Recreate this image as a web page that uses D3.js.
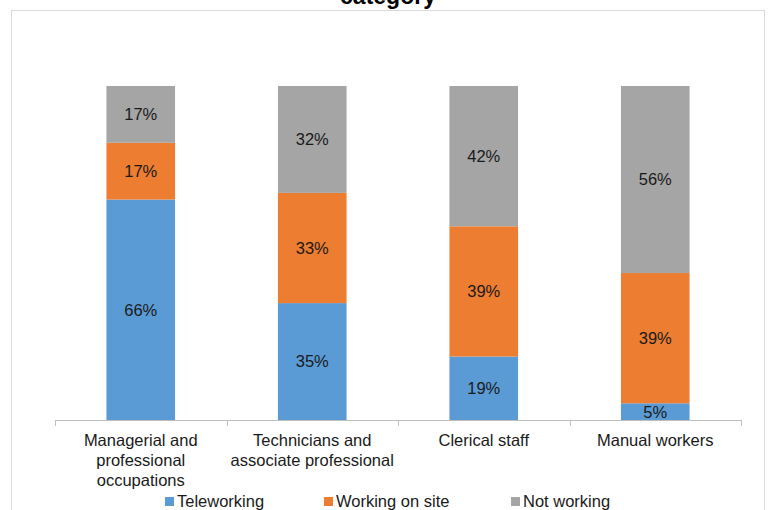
<!DOCTYPE html>
<html>
<head>
<meta charset="utf-8">
<script src="https://cdn.jsdelivr.net/npm/d3@7"></script>
<style>
  html, body { margin: 0; padding: 0; background: #fff; }
  svg { display: block; font-family: "Liberation Sans", Arial, sans-serif; }
</style>
</head>
<body>
<svg id="chart" width="769" height="510"></svg>
<script>
// Occupational categories (x axis), each label split into lines
const categories = [
  ["Managerial and", "professional", "occupations"],
  ["Technicians and", "associate professional"],
  ["Clerical staff"],
  ["Manual workers"]
];
const seriesNames = ["Teleworking", "Working on site", "Not working"];
const teleworking   = [66, 35, 19, 5];
const workingOnSite = [17, 33, 39, 39];
const notWorking    = [17, 32, 42, 56];
const colors = ["#5B9BD5", "#ED7D31", "#A5A5A5"];

const svg = d3.select("#chart");

// Outer chart frame
svg.append("rect")
  .attr("x", 11.5).attr("y", 10.5)
  .attr("width", 753).attr("height", 510)
  .attr("fill", "#fff").attr("stroke", "#d9d9d9").attr("stroke-width", 1);

// Title (last line)
svg.append("text")
  .attr("x", 388).attr("y", 4)
  .attr("text-anchor", "middle")
  .attr("font-size", 23).attr("font-weight", "bold")
  .attr("fill", "#000")
  .text("category");

const plotLeft = 55, plotRight = 741, plotTop = 86, plotBottom = 420;

const keys = categories.map((c, i) => "c" + i);
const x = d3.scaleBand().domain(keys).range([plotLeft, plotRight]).paddingInner(0.6).paddingOuter(0.3);
const xTicks = d3.scaleBand().domain(keys).range([plotLeft, plotRight]);
const y = d3.scaleLinear().domain([0, 100]).range([plotBottom, plotTop]);

const rows = keys.map((k, i) => ({
  key: k,
  s0: teleworking[i], s1: workingOnSite[i], s2: notWorking[i]
}));
const layers = d3.stack().keys(["s0", "s1", "s2"])(rows);

const g = svg.append("g");
layers.forEach((layer, li) => {
  const lg = g.append("g");
  lg.selectAll("rect")
    .data(layer)
    .join("rect")
    .attr("x", d => x(d.data.key))
    .attr("width", x.bandwidth())
    .attr("y", d => y(d[1]))
    .attr("height", d => y(d[0]) - y(d[1]))
    .attr("fill", colors[li]);
  lg.selectAll("text")
    .data(layer)
    .join("text")
    .attr("x", d => x(d.data.key) + x.bandwidth() / 2)
    .attr("y", d => (y(d[0]) + y(d[1])) / 2)
    .attr("dy", "0.36em")
    .attr("text-anchor", "middle")
    .attr("font-size", 16.5)
    .attr("fill", "#1a1a1a")
    .text(d => (d[1] - d[0]) + "%");
});

// X axis: baseline with category dividers
const axisG = svg.append("g").attr("transform", `translate(0,${plotBottom})`);
axisG.append("line")
  .attr("x1", plotLeft).attr("x2", plotRight)
  .attr("y1", 0.5).attr("y2", 0.5)
  .attr("stroke", "#bfbfbf").attr("stroke-width", 1);
const tickXs = keys.map(k => xTicks(k)).concat([plotRight]);
axisG.selectAll("line.tick")
  .data(tickXs)
  .join("line")
  .attr("class", "tick")
  .attr("x1", d => Math.round(d) + 0.5).attr("x2", d => Math.round(d) + 0.5)
  .attr("y1", 0).attr("y2", 6)
  .attr("stroke", "#bfbfbf");

// Category labels
axisG.selectAll("text.cat")
  .data(categories.map((lines, i) => ({ lines, key: keys[i] })))
  .join("text")
  .attr("class", "cat")
  .attr("text-anchor", "middle")
  .attr("font-size", 16.5)
  .attr("fill", "#1a1a1a")
  .each(function(d) {
    const t = d3.select(this);
    d.lines.forEach((ln, j) => {
      t.append("tspan")
        .attr("x", x(d.key) + x.bandwidth() / 2)
        .attr("y", 26 + j * 20)
        .text(ln);
    });
  });

// Legend
const legendX = [165, 324, 511];
const legend = svg.append("g");
seriesNames.forEach((name, i) => {
  legend.append("rect")
    .attr("x", legendX[i]).attr("y", 497)
    .attr("width", 9).attr("height", 9)
    .attr("fill", colors[i]);
  legend.append("text")
    .attr("x", legendX[i] + 12).attr("y", 507)
    .attr("font-size", 16.5)
    .attr("fill", "#1a1a1a")
    .text(name);
});
</script>
</body>
</html>
